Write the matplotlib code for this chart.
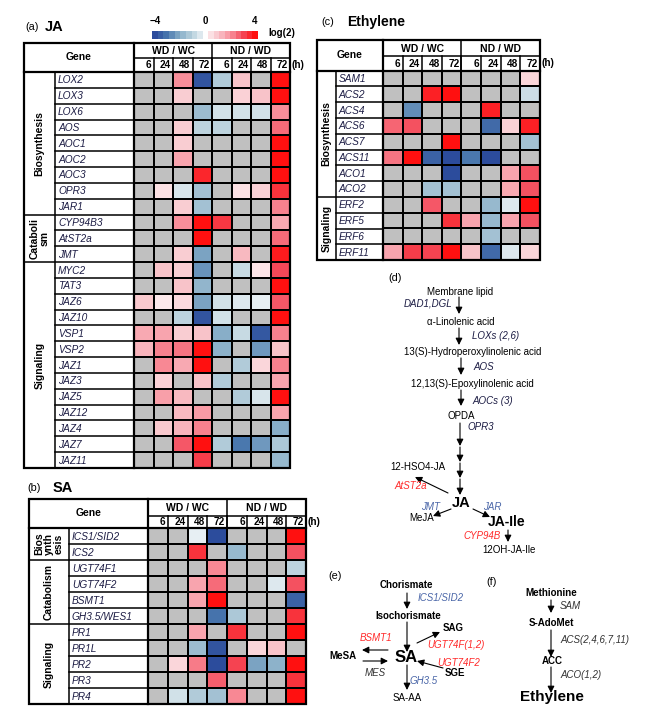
import numpy as np
import matplotlib
matplotlib.use('Agg')
import matplotlib.pyplot as plt
from matplotlib.colors import LinearSegmentedColormap
from matplotlib.patches import Rectangle, FancyArrowPatch

plt.rcParams['font.family'] = ['Liberation Sans', 'DejaVu Sans']

nan = np.nan

# ---- data (log2 fold change, nan = not significant / gray) ----
hours = ['6', '24', '48', '72', '6', '24', '48', '72']
comparisons = ['WD / WC', 'ND / WD']

ja_genes = ['LOX2', 'LOX3', 'LOX6', 'AOS', 'AOC1', 'AOC2', 'AOC3', 'OPR3', 'JAR1',
            'CYP94B3', 'AtST2a', 'JMT',
            'MYC2', 'TAT3', 'JAZ6', 'JAZ10', 'VSP1', 'VSP2', 'JAZ1', 'JAZ3', 'JAZ5',
            'JAZ12', 'JAZ4', 'JAZ7', 'JAZ11']
ja_groups = [('Biosynthesis', 9), ('Cataboli\nsm', 3), ('Signaling', 13)]
ja_values = [
    [nan, nan, 2.0, -3.8, -1.2, 1.0, nan, 4.0],
    [nan, nan, 0.8, nan, nan, 0.7, 1.0, 4.0],
    [nan, nan, nan, -1.6, -0.6, -0.6, -0.6, 2.0],
    [nan, nan, 0.8, -1.0, -1.0, nan, nan, 2.5],
    [nan, nan, 0.8, nan, nan, nan, nan, 4.0],
    [nan, nan, 1.6, nan, nan, nan, nan, 4.0],
    [nan, nan, nan, 3.6, nan, nan, nan, 4.0],
    [nan, 0.4, -0.5, -1.5, nan, 0.4, 0.7, 3.4],
    [nan, nan, 0.8, -1.5, nan, nan, nan, 2.2],
    [nan, nan, 2.0, 4.0, 3.3, nan, nan, 1.5],
    [nan, nan, nan, 4.0, nan, nan, nan, 2.5],
    [nan, nan, 0.8, -2.2, nan, 1.2, nan, 3.8],
    [nan, 1.0, 0.8, -2.5, nan, -0.8, 0.3, 3.0],
    [nan, nan, 1.0, -1.8, nan, nan, nan, 4.0],
    [0.9, 0.2, 0.5, -2.2, -0.6, -0.4, -0.2, 2.8],
    [nan, nan, -1.0, -3.8, -0.6, nan, nan, 4.0],
    [1.5, 1.6, 0.8, 1.0, -2.0, -0.8, -3.7, 2.2],
    [1.3, 2.2, 2.4, 4.0, -1.9, nan, -2.4, 1.0],
    [nan, 2.1, 1.5, 4.0, nan, -1.2, 0.6, 2.2],
    [nan, 0.7, nan, 1.0, -1.2, nan, nan, 1.6],
    [nan, 1.7, 1.2, nan, nan, -1.2, -0.5, 4.0],
    [nan, nan, 1.2, 1.8, nan, nan, nan, 1.6],
    [nan, 0.9, 1.3, 2.2, nan, nan, nan, -2.0],
    [nan, nan, 2.8, 4.0, -1.2, -3.0, -2.4, -1.3],
    [nan, nan, nan, 3.2, nan, nan, nan, -1.7],
]

sa_genes = ['ICS1/SID2', 'ICS2', 'UGT74F1', 'UGT74F2', 'BSMT1', 'GH3.5/WES1',
            'PR1', 'PR1L', 'PR2', 'PR3', 'PR4']
sa_groups = [('Bios\nynth\nesis', 2), ('Catabolism', 4), ('Signaling', 5)]
sa_values = [
    [nan, nan, -0.2, -4.0, nan, nan, nan, 4.0],
    [nan, nan, 3.4, nan, -1.7, nan, nan, 2.9],
    [nan, nan, nan, 2.1, nan, nan, nan, -1.0],
    [nan, nan, 1.6, 2.5, nan, nan, -0.4, 2.9],
    [nan, nan, 1.6, 4.0, nan, nan, nan, -3.5],
    [nan, nan, nan, -3.1, -1.3, nan, nan, 3.4],
    [nan, nan, 1.6, nan, 3.4, nan, nan, 4.0],
    [nan, nan, -1.6, -3.8, nan, 0.6, 1.0, nan],
    [nan, 0.6, 2.3, -4.0, 3.1, -2.2, -1.9, 4.0],
    [nan, nan, nan, 2.7, nan, nan, nan, 3.4],
    [nan, -0.6, -1.2, -1.5, 2.1, nan, nan, 4.0],
]

et_genes = ['SAM1', 'ACS2', 'ACS4', 'ACS6', 'ACS7', 'ACS11', 'ACO1', 'ACO2',
            'ERF2', 'ERF5', 'ERF6', 'ERF11']
et_groups = [('Biosynthesis', 8), ('Signaling', 4)]
et_values = [
    [nan, nan, nan, nan, nan, nan, nan, 0.6],
    [nan, nan, 3.7, 4.0, nan, nan, nan, -0.7],
    [nan, -2.6, nan, nan, nan, 3.7, nan, nan],
    [2.6, 2.9, nan, nan, nan, -3.3, 0.7, 3.7],
    [nan, nan, nan, 4.0, nan, nan, nan, -1.5],
    [2.4, 4.0, -3.5, -4.0, -3.0, -4.0, nan, nan],
    [nan, nan, nan, -4.0, nan, nan, 1.6, 2.9],
    [nan, nan, -1.5, -1.5, nan, nan, 1.5, 2.9],
    [nan, nan, 2.8, nan, nan, -1.7, -0.4, 4.0],
    [nan, nan, nan, 3.4, 1.6, -1.7, 1.6, 2.9],
    [nan, nan, nan, nan, nan, -1.5, nan, nan],
    [1.6, 3.2, 3.1, 4.0, 1.0, -3.3, -0.4, 0.6],
]

W, H = 648, 716
GRAY = '#c0c0c0'
GENE_COLOR = '#1c1c44'
RED = '#ff2a2a'
BLUE = '#4a66a8'
ENZ = '#333333'

cmap = LinearSegmentedColormap.from_list('fc', [
    (0.0, '#2c4c9c'), (0.125, '#4a78ae'), (0.25, '#88aec8'), (0.375, '#bcd3de'),
    (0.49, '#eef3f6'), (0.5, '#ffffff'), (0.51, '#fdeef0'), (0.625, '#f8c4ca'),
    (0.75, '#f8909c'), (0.875, '#f44a5a'), (1.0, '#ff1010')])
cmap.set_bad(GRAY)

fig = plt.figure(figsize=(W / 100, H / 100), dpi=100)


def fig_rect(x0, y0, x1, y1):
    return [x0 / W, 1 - y1 / H, (x1 - x0) / W, (y1 - y0) / H]


cv = fig.add_axes([0, 0, 1, 1])
cv.set_xlim(0, W)
cv.set_ylim(H, 0)
cv.axis('off')
cv.set_zorder(10)
cv.patch.set_visible(False)


def line(xs, ys, lw=1.1):
    cv.plot(xs, ys, color='black', lw=lw, solid_capstyle='projecting')


def draw_panel(x0, y0, gcol_w, gene_w, cell_w, h1, h2, row_h, genes, groups, values):
    xg = x0 + gcol_w
    xd = xg + gene_w
    xr = xd + 8 * cell_w
    ym = y0 + h1
    yd = ym + h2
    n = len(genes)
    yb = yd + n * row_h

    ax = fig.add_axes(fig_rect(xd, yd, xr, yb))
    data = np.ma.masked_invalid(np.array(values, dtype=float))
    ax.set_facecolor(GRAY)
    ax.pcolormesh(data, cmap=cmap, vmin=-4, vmax=4, edgecolors='black', linewidth=1.2)
    ax.set_xlim(0, 8)
    ax.set_ylim(n, 0)
    ax.set_xticks([])
    ax.set_yticks([])
    for s in ax.spines.values():
        s.set_visible(False)

    # table frame
    cv.add_patch(Rectangle((x0, y0), xr - x0, yb - y0, fill=False, lw=1.6, ec='black'))
    line([xd, xd], [y0, yb], 1.6)
    line([x0, xr], [yd, yd], 1.6)
    line([xd, xr], [ym, ym])
    line([xd + 4 * cell_w] * 2, [y0, yb])
    for k in range(1, 8):
        line([xd + k * cell_w] * 2, [ym, yd])
    line([xg, xg], [yd, yb])
    bounds = np.cumsum([c for _, c in groups])[:-1]
    for r in range(1, n):
        y = yd + r * row_h
        line([x0 if r in bounds else xg, xd], [y, y])

    # header text
    cv.text((x0 + xd) / 2, (y0 + yd) / 2, 'Gene', ha='center', va='center',
            fontsize=7.5, fontweight='bold')
    for i, c in enumerate(comparisons):
        cv.text(xd + (4 * i + 2) * cell_w, (y0 + ym) / 2 + 0.5, c, ha='center', va='center',
                fontsize=7.5, fontweight='bold')
    for k, h in enumerate(hours):
        cv.text(xd + (k + 1) * cell_w - 2, (ym + yd) / 2 + 0.5, h, ha='right', va='center',
                fontsize=7.2, fontweight='bold')
    cv.text(xr + 2, (ym + yd) / 2, '(h)', ha='left', va='center', fontsize=7.2,
            fontweight='bold')

    for r, g in enumerate(genes):
        cv.text(xg + 3, yd + (r + 0.5) * row_h + 0.5, g, ha='left', va='center',
                fontsize=7.3, style='italic', color=GENE_COLOR)

    start = 0
    for label, cnt in groups:
        yc = yd + (start + cnt / 2) * row_h
        cv.text((x0 + xg) / 2, yc, label, ha='center', va='center', rotation=90,
                fontsize=7.5, fontweight='bold', multialignment='center', linespacing=1.0)
        start += cnt


# ---- heatmap tables ----
draw_panel(24, 43, 31, 79, 19.5, 15, 14, 15.84, ja_genes, ja_groups, ja_values)
draw_panel(29, 499, 40, 79, 19.75, 16.5, 12.5, 16.0, sa_genes, sa_groups, sa_values)
draw_panel(317, 40, 19, 47, 19.6, 16, 14.5, 15.8, et_genes, et_groups, et_values)

# panel titles
cv.text(25, 27, '(a)', fontsize=7.8, va='center')
cv.text(45, 27, 'JA', fontsize=10.5, fontweight='bold', va='center')
cv.text(27, 488, '(b)', fontsize=7.8, va='center')
cv.text(53, 488, 'SA', fontsize=10.5, fontweight='bold', va='center')
cv.text(321, 22, '(c)', fontsize=7.8, va='center')
cv.text(347, 22, 'Ethylene', fontsize=10, fontweight='bold', va='center')

# colour key
blue_steps = np.linspace(-4, -0.4, 9)
red_steps = np.linspace(0.4, 4, 9)
for steps, (a, b) in [(blue_steps, (152, 203)), (red_steps, (208, 258))]:
    cax = fig.add_axes(fig_rect(a, 31, b, 39))
    cax.pcolormesh(steps[np.newaxis, :], cmap=cmap, vmin=-4, vmax=4)
    cax.set_xticks([])
    cax.set_yticks([])
    for s in cax.spines.values():
        s.set_visible(False)
for x, t in [(155, '\u22124'), (205, '0'), (255, '4')]:
    cv.text(x, 21, t, ha='center', va='center', fontsize=7, fontweight='bold')
cv.text(268, 33, 'log(2)', ha='left', va='center', fontsize=7, fontweight='bold')


# ---- pathways ----
def arrow(x1, y1, x2, y2):
    cv.add_patch(FancyArrowPatch((x1, y1), (x2, y2), arrowstyle='-|>,head_width=2,head_length=4',
                                 color='black', lw=0.8, shrinkA=0, shrinkB=0))


def txt(x, y, s, size=7, color='black', bold=False, italic=False, ha='center'):
    cv.text(x, y, s, ha=ha, va='center', fontsize=size, color=color,
            fontweight='bold' if bold else 'normal', style='italic' if italic else 'normal')


# (d) JA
txt(388, 278, '(d)', 7.8, ha='left')
txt(460, 292, 'Membrane lipid')
txt(452, 303, 'DAD1,DGL', italic=True, color=GENE_COLOR, ha='right')
arrow(459, 297, 459, 314)
txt(461, 322, '\u03b1-Linolenic acid')
arrow(459, 328, 459, 345)
txt(472, 336, 'LOXs (2,6)', italic=True, color=GENE_COLOR, ha='left')
txt(473, 352, '13(S)-Hydroperoxylinolenic acid')
arrow(461, 358, 461, 375)
txt(473, 367, 'AOS', italic=True, color=GENE_COLOR, ha='left')
txt(472, 384, '12,13(S)-Epoxylinolenic acid')
arrow(461, 390, 461, 406)
txt(472, 401, 'AOCs (3)', italic=True, color=GENE_COLOR, ha='left')
txt(461, 416, 'OPDA')
txt(467, 427, 'OPR3', italic=True, color=GENE_COLOR, ha='left')
for a, b in [(423, 446), (447, 462), (463, 478), (479, 495)]:
    arrow(460, a, 460, b)
txt(418, 467, '12-HSO4-JA')
txt(394, 486, 'AtST2a', italic=True, color=RED, ha='left')
arrow(448, 493, 415, 477)
txt(461, 503, 'JA', 10.5, bold=True)
txt(431, 507, 'JMT', italic=True, color=BLUE)
txt(422, 518, 'MeJA')
arrow(451, 509, 433, 516)
txt(483, 507, 'JAR', italic=True, color=BLUE, ha='left')
arrow(473, 509, 490, 517)
txt(507, 522, 'JA-Ile', 10, bold=True)
txt(463, 536, 'CYP94B', italic=True, color=RED, ha='left')
arrow(508, 530, 508, 542)
txt(509, 550, '12OH-JA-Ile')

# (e) SA
txt(328, 576, '(e)', 7.8, ha='left')
txt(406, 585, 'Chorismate', bold=True)
arrow(407, 593, 407, 609)
txt(418, 598, 'ICS1/SID2', italic=True, color=BLUE, ha='left')
txt(408, 616, 'Isochorismate', bold=True)
arrow(407, 622, 407, 652)
txt(453, 628, 'SAG', bold=True)
arrow(417, 643, 440, 632)
txt(376, 638, 'BSMT1', italic=True, color=RED)
txt(427, 645, 'UGT74F(1,2)', italic=True, color=RED, ha='left')
txt(343, 656, 'MeSA', bold=True)
txt(406, 657, 'SA', 12, bold=True)
arrow(388, 650, 362, 650)
arrow(363, 661, 388, 661)
txt(437, 663, 'UGT74F2', italic=True, color=RED, ha='left')
txt(455, 673, 'SGE', bold=True)
arrow(443, 668, 417, 661)
txt(375, 673, 'MES', italic=True, color=ENZ)
arrow(407, 665, 407, 690)
txt(410, 681, 'GH3.5', italic=True, color=BLUE, ha='left')
txt(407, 698, 'SA-AA')

# (f) ethylene
txt(486, 582, '(f)', 7.8, ha='left')
txt(551, 593, 'Methionine', bold=True)
arrow(551, 600, 551, 613)
txt(560, 606, 'SAM', italic=True, color=ENZ, ha='left')
txt(551, 623, 'S-AdoMet', bold=True)
arrow(551, 630, 551, 657)
txt(560, 640, 'ACS(2,4,6,7,11)', italic=True, color=ENZ, ha='left')
txt(552, 661, 'ACC', bold=True)
arrow(551, 667, 551, 693)
txt(560, 675, 'ACO(1,2)', italic=True, color=ENZ, ha='left')
txt(552, 697, 'Ethylene', 11, bold=True)

fig.savefig('out.png', dpi=100)
